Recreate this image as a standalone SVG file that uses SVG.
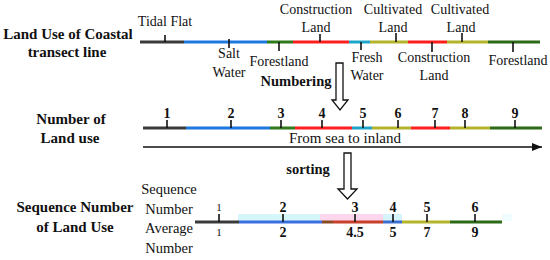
<svg xmlns="http://www.w3.org/2000/svg" width="550" height="260" viewBox="0 0 550 260">
<defs>
<style>
.t{font-family:"Liberation Serif","Times New Roman",serif;fill:#111;text-anchor:middle}
.r{font-size:14px}
.b{font-size:15px;font-weight:bold}
.n{font-size:14px;font-weight:bold}
.seg{stroke-width:3;fill:none}
.tk{stroke:#111;stroke-width:1.6}
.k{stroke:#3a3a3a}.bl{stroke:#1f78e0}.gr{stroke:#2e7a1c}.rd{stroke:#ff1e1e}.cy{stroke:#1ea6c8}.ol{stroke:#b4b42c}.dg{stroke:#2c6a18}
.hol{fill:#fff;stroke:#111;stroke-width:1.3}
</style>
<marker id="ah" viewBox="0 0 10 8" refX="10" refY="4" markerWidth="10" markerHeight="8" markerUnits="userSpaceOnUse" orient="auto">
<path d="M0,0 L10,4 L0,8 Z" fill="#111"/>
</marker>
</defs>
<rect width="550" height="260" fill="#fff"/>

<g id="row-landuse">
<text class="t b" x="68" y="39">Land Use of Coastal</text>
<text class="t b" x="67" y="57">transect line</text>
<line class="seg k" x1="140" y1="42" x2="184" y2="42"/>
<line class="seg bl" x1="184" y1="42" x2="267" y2="42"/>
<line class="seg gr" x1="267" y1="42" x2="293" y2="42"/>
<line class="seg rd" x1="293" y1="42" x2="349" y2="42"/>
<line class="seg cy" x1="349" y1="42" x2="370" y2="42"/>
<line class="seg ol" x1="370" y1="42" x2="408" y2="42"/>
<line class="seg rd" x1="408" y1="42" x2="447" y2="42"/>
<line class="seg ol" x1="447" y1="42" x2="488" y2="42"/>
<line class="seg dg" x1="488" y1="42" x2="540" y2="42"/>
<line class="tk" x1="165" y1="35" x2="165" y2="42"/>
<line class="tk" x1="229" y1="39" x2="229" y2="48"/>
<line class="tk" x1="279" y1="42" x2="279" y2="51"/>
<line class="tk" x1="320" y1="34" x2="320" y2="42"/>
<line class="tk" x1="361" y1="42" x2="361" y2="50"/>
<line class="tk" x1="396" y1="33" x2="396" y2="42"/>
<line class="tk" x1="432" y1="42" x2="432" y2="52"/>
<line class="tk" x1="462" y1="33" x2="462" y2="42"/>
<line class="tk" x1="513" y1="42" x2="513" y2="52"/>
<text class="t r" x="165" y="26">Tidal Flat</text>
<text class="t r" x="229" y="58">Salt</text>
<text class="t r" x="229" y="77">Water</text>
<text class="t r" x="279" y="66">Forestland</text>
<text class="t r" x="316" y="14">Construction</text>
<text class="t r" x="316" y="32">Land</text>
<text class="t r" x="367" y="62">Fresh</text>
<text class="t r" x="367" y="80">Water</text>
<text class="t r" x="393" y="14">Cultivated</text>
<text class="t r" x="393" y="32">Land</text>
<text class="t r" x="434" y="62">Construction</text>
<text class="t r" x="434" y="80">Land</text>
<text class="t r" x="460" y="14">Cultivated</text>
<text class="t r" x="461" y="32">Land</text>
<text class="t r" x="518" y="65">Forestland</text>
</g>

<g id="row-number">
<text class="t b" x="71" y="124">Number of</text>
<text class="t b" x="70" y="143">Land use</text>
<line class="seg k" x1="143" y1="128" x2="186" y2="128"/>
<line class="seg bl" x1="186" y1="128" x2="270" y2="128"/>
<line class="seg gr" x1="270" y1="128" x2="295" y2="128"/>
<line class="seg rd" x1="295" y1="128" x2="352" y2="128"/>
<line class="seg cy" x1="352" y1="128" x2="372" y2="128"/>
<line class="seg ol" x1="372" y1="128" x2="411" y2="128"/>
<line class="seg rd" x1="411" y1="128" x2="450" y2="128"/>
<line class="seg ol" x1="450" y1="128" x2="490" y2="128"/>
<line class="seg dg" x1="490" y1="128" x2="542" y2="128"/>
<line class="tk" x1="167" y1="120" x2="167" y2="128"/>
<line class="tk" x1="231" y1="120" x2="231" y2="128"/>
<line class="tk" x1="281" y1="120" x2="281" y2="128"/>
<line class="tk" x1="322" y1="120" x2="322" y2="128"/>
<line class="tk" x1="363" y1="120" x2="363" y2="128"/>
<line class="tk" x1="398" y1="120" x2="398" y2="128"/>
<line class="tk" x1="435" y1="120" x2="435" y2="128"/>
<line class="tk" x1="465" y1="120" x2="465" y2="128"/>
<line class="tk" x1="515" y1="120" x2="515" y2="128"/>
<text class="t n" x="167" y="118">1</text>
<text class="t n" x="231" y="118">2</text>
<text class="t n" x="281" y="118">3</text>
<text class="t n" x="322" y="118">4</text>
<text class="t n" x="363" y="118">5</text>
<text class="t n" x="398" y="118">6</text>
<text class="t n" x="435" y="118">7</text>
<text class="t n" x="465" y="118">8</text>
<text class="t n" x="515" y="118">9</text>
<text class="t" x="345" y="143" style="font-size:15px">From sea to inland</text>
</g>

<g id="row-sequence">
<text class="t b" x="75" y="212">Sequence Number</text>
<text class="t b" x="75" y="232">of Land Use</text>
<text class="t" x="169" y="194" style="font-size:14.5px">Sequence</text>
<text class="t" x="169" y="214" style="font-size:14.5px">Number</text>
<text class="t" x="169" y="233" style="font-size:14.5px">Average</text>
<text class="t" x="169" y="253" style="font-size:14.5px">Number</text>
<rect x="238" y="214" width="82" height="7" fill="#d6f7fa"/>
<rect x="320" y="214" width="63" height="7" fill="#fcd6ec"/>
<rect x="383" y="214" width="19" height="7" fill="#d6f4fa"/>
<rect x="502" y="214" width="10" height="7" fill="#f0fcfd"/>
<line class="seg k" x1="195" y1="222" x2="239" y2="222"/>
<line class="seg" stroke="#3a6ee0" x1="239" y1="222" x2="322" y2="222"/>
<line class="seg" stroke="#8a4a22" x1="322" y1="222" x2="333" y2="222"/>
<line class="seg" stroke="#c8402a" x1="333" y1="222" x2="383" y2="222"/>
<line class="seg" stroke="#3a6ed0" x1="383" y1="222" x2="402" y2="222"/>
<line class="seg ol" x1="402" y1="222" x2="450" y2="222"/>
<line class="seg dg" x1="450" y1="222" x2="502" y2="222"/>
<line class="tk" x1="219" y1="214" x2="219" y2="222"/>
<line class="tk" x1="283" y1="214" x2="283" y2="222"/>
<line class="tk" x1="355" y1="214" x2="355" y2="222"/>
<line class="tk" x1="393" y1="214" x2="393" y2="222"/>
<line class="tk" x1="427" y1="214" x2="427" y2="222"/>
<line class="tk" x1="475" y1="214" x2="475" y2="222"/>
<text class="t" x="219" y="211" style="font-size:11px">1</text>
<text class="t n" x="283" y="212">2</text>
<text class="t n" x="355" y="212">3</text>
<text class="t n" x="393" y="212">4</text>
<text class="t n" x="427" y="212">5</text>
<text class="t n" x="475" y="212">6</text>
<text class="t" x="219" y="236" style="font-size:11px">1</text>
<text class="t n" x="283" y="237">2</text>
<text class="t n" x="355" y="237">4.5</text>
<text class="t n" x="393" y="237">5</text>
<text class="t n" x="427" y="237">7</text>
<text class="t n" x="475" y="237">9</text>
</g>

<g id="connectors">
<line x1="143" y1="147" x2="542" y2="147" stroke="#111" stroke-width="1.5" marker-end="url(#ah)"/>
<path class="hol" d="M336,63 L343,63 L343,100 L348,100 L340,110 L332,100 L336,100 Z"/>
<text class="t b" x="296" y="86" style="font-size:14.5px">Numbering</text>
<path class="hol" d="M344,153 L351,153 L351,189 L357,189 L347.5,199 L338,189 L344,189 Z"/>
<text class="t b" x="308" y="174" style="font-size:14.5px">sorting</text>
</g>
</svg>
